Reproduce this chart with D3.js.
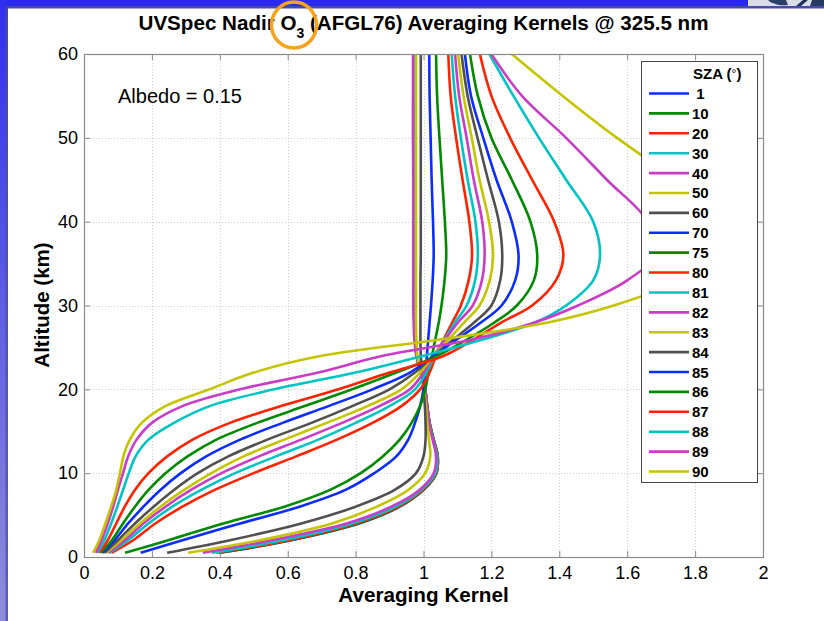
<!DOCTYPE html>
<html>
<head>
<meta charset="utf-8">
<script src="https://cdn.jsdelivr.net/npm/d3@7"></script>
<style>
  body { margin: 0; background: #fff; }
  svg { display: block; font-family: "Liberation Sans", Arial, Helvetica, sans-serif; }
</style>
</head>
<body>
<div id="chart"></div>
<script>
// altitude grid (km) shared by every kernel
const altitudes = [0.5, 2, 4, 6, 8, 10, 12, 14, 16, 18, 20, 22, 24, 26, 28, 30, 33, 36, 40, 45, 50, 55, 60];

// averaging kernel per solar zenith angle
const ak01 = [0.400, 0.610, 0.810, 0.930, 1.000, 1.038, 1.042, 1.030, 1.018, 1.011, 1.005, 0.992, 0.980, 0.975, 0.973, 0.972, 0.972, 0.972, 0.972, 0.972, 0.972, 0.972, 0.972];
const ak10 = [0.397, 0.607, 0.807, 0.928, 0.999, 1.038, 1.042, 1.030, 1.018, 1.011, 1.005, 0.992, 0.980, 0.975, 0.973, 0.972, 0.972, 0.972, 0.972, 0.972, 0.972, 0.972, 0.972];
const ak20 = [0.390, 0.600, 0.800, 0.925, 0.997, 1.037, 1.041, 1.029, 1.018, 1.011, 1.005, 0.992, 0.980, 0.975, 0.973, 0.973, 0.973, 0.973, 0.973, 0.973, 0.973, 0.973, 0.973];
const ak30 = [0.376, 0.585, 0.790, 0.918, 0.993, 1.035, 1.040, 1.028, 1.017, 1.010, 1.004, 0.992, 0.980, 0.975, 0.973, 0.973, 0.973, 0.973, 0.973, 0.973, 0.973, 0.973, 0.973];
const ak40 = [0.350, 0.552, 0.773, 0.905, 0.988, 1.030, 1.037, 1.027, 1.016, 1.010, 1.004, 0.991, 0.979, 0.973, 0.971, 0.970, 0.970, 0.970, 0.970, 0.970, 0.969, 0.969, 0.969];
const ak50 = [0.307, 0.518, 0.730, 0.862, 0.955, 1.005, 1.020, 1.016, 1.011, 1.007, 1.002, 0.992, 0.982, 0.979, 0.978, 0.978, 0.978, 0.978, 0.978, 0.978, 0.978, 0.978, 0.978];
const ak60 = [0.245, 0.430, 0.640, 0.800, 0.915, 0.978, 1.000, 1.006, 1.006, 1.004, 1.000, 0.996, 0.992, 0.991, 0.991, 0.991, 0.991, 0.992, 0.992, 0.992, 0.992, 0.992, 0.992];
const ak70 = [0.167, 0.290, 0.460, 0.635, 0.770, 0.855, 0.920, 0.955, 0.975, 0.990, 1.000, 1.006, 1.010, 1.014, 1.018, 1.022, 1.027, 1.030, 1.028, 1.024, 1.021, 1.018, 1.017];
const ak75 = [0.121, 0.248, 0.410, 0.590, 0.725, 0.815, 0.880, 0.930, 0.965, 0.990, 1.005, 1.015, 1.025, 1.035, 1.045, 1.053, 1.062, 1.067, 1.063, 1.055, 1.047, 1.040, 1.037];
const ak80 = [0.081, 0.145, 0.210, 0.290, 0.385, 0.500, 0.625, 0.745, 0.850, 0.935, 0.990, 1.018, 1.037, 1.060, 1.085, 1.110, 1.133, 1.143, 1.135, 1.115, 1.096, 1.080, 1.073];
const ak81 = [0.075, 0.130, 0.190, 0.260, 0.345, 0.445, 0.565, 0.690, 0.800, 0.900, 0.975, 1.008, 1.033, 1.063, 1.093, 1.127, 1.152, 1.160, 1.153, 1.130, 1.110, 1.093, 1.083];
const ak82 = [0.070, 0.120, 0.175, 0.240, 0.315, 0.405, 0.515, 0.640, 0.760, 0.870, 0.960, 1.000, 1.030, 1.065, 1.102, 1.145, 1.172, 1.180, 1.173, 1.148, 1.127, 1.105, 1.093];
const ak83 = [0.065, 0.110, 0.165, 0.225, 0.295, 0.375, 0.470, 0.590, 0.715, 0.835, 0.935, 0.990, 1.030, 1.075, 1.120, 1.165, 1.195, 1.205, 1.193, 1.165, 1.142, 1.118, 1.102];
const ak84 = [0.060, 0.100, 0.150, 0.205, 0.265, 0.335, 0.425, 0.540, 0.670, 0.790, 0.900, 0.975, 1.030, 1.090, 1.150, 1.200, 1.226, 1.232, 1.222, 1.190, 1.159, 1.130, 1.112];
const ak85 = [0.055, 0.090, 0.130, 0.175, 0.225, 0.285, 0.360, 0.460, 0.585, 0.720, 0.850, 0.960, 1.030, 1.100, 1.170, 1.230, 1.270, 1.280, 1.260, 1.215, 1.176, 1.140, 1.122];
const ak86 = [0.050, 0.082, 0.115, 0.150, 0.190, 0.240, 0.305, 0.390, 0.510, 0.650, 0.790, 0.920, 1.040, 1.130, 1.210, 1.275, 1.325, 1.335, 1.315, 1.260, 1.200, 1.160, 1.137];
const ak87 = [0.045, 0.070, 0.095, 0.120, 0.150, 0.190, 0.245, 0.320, 0.430, 0.580, 0.750, 0.900, 1.060, 1.150, 1.230, 1.320, 1.390, 1.412, 1.385, 1.320, 1.255, 1.200, 1.166];
const ak88 = [0.039, 0.060, 0.080, 0.098, 0.115, 0.132, 0.152, 0.190, 0.265, 0.370, 0.560, 0.800, 1.000, 1.180, 1.330, 1.420, 1.500, 1.520, 1.500, 1.420, 1.340, 1.265, 1.194];
const ak89 = [0.035, 0.052, 0.070, 0.086, 0.100, 0.115, 0.130, 0.155, 0.200, 0.290, 0.460, 0.690, 0.880, 1.150, 1.330, 1.455, 1.600, 1.680, 1.660, 1.540, 1.420, 1.290, 1.200];
const ak90 = [0.027, 0.045, 0.063, 0.080, 0.095, 0.106, 0.116, 0.135, 0.170, 0.240, 0.370, 0.500, 0.700, 1.060, 1.370, 1.560, 1.760, 1.890, 1.950, 1.750, 1.570, 1.410, 1.260];

const szaLabels = [' 1', '10', '20', '30', '40', '50', '60', '70', '75', '80', '81', '82', '83', '84', '85', '86', '87', '88', '89', '90'];
const kernels = [ak01, ak10, ak20, ak30, ak40, ak50, ak60, ak70, ak75, ak80, ak81, ak82, ak83, ak84, ak85, ak86, ak87, ak88, ak89, ak90];

// matlab style colour order
const colorOrder = ['#0a2cff', '#008a00', '#ff2200', '#00c4c4', '#c83cc8', '#c4c400', '#505050'];

const xTicks = [0, 0.2, 0.4, 0.6, 0.8, 1, 1.2, 1.4, 1.6, 1.8, 2];
const xTickLabels = ['0', '0.2', '0.4', '0.6', '0.8', '1', '1.2', '1.4', '1.6', '1.8', '2'];
const yTicks = [0, 10, 20, 30, 40, 50, 60];

const width = 824, height = 621;
const plot = { left: 84, right: 763, top: 54, bottom: 557 };

const svg = d3.select('#chart').append('svg')
  .attr('width', width)
  .attr('height', height);

// slide frame
const defs = svg.append('defs');
const sideGrad = defs.append('linearGradient')
  .attr('id', 'sideGrad').attr('x1', 0).attr('y1', 0).attr('x2', 0).attr('y2', 1);
sideGrad.append('stop').attr('offset', '0%').attr('stop-color', '#2f2ff0');
sideGrad.append('stop').attr('offset', '100%').attr('stop-color', '#8e8ed8');
const innerGrad = defs.append('linearGradient')
  .attr('id', 'innerGrad').attr('x1', 0).attr('y1', 0).attr('x2', 0).attr('y2', 1);
innerGrad.append('stop').attr('offset', '0%').attr('stop-color', '#4646b0');
innerGrad.append('stop').attr('offset', '100%').attr('stop-color', '#5c5cc0');

svg.append('rect').attr('x', 0).attr('y', 0).attr('width', width).attr('height', 8).attr('fill', '#2a2aee');
svg.append('rect').attr('x', 0).attr('y', 6).attr('width', width).attr('height', 2.5).attr('fill', '#4a4aae');
svg.append('rect').attr('x', 748).attr('y', 0).attr('width', width - 748).attr('height', 6).attr('fill', '#d9dde8');
svg.append('path').attr('d', 'M768,0 C772,4 780,6 788,5 L786,0 Z').attr('fill', '#2c3f66');
svg.append('path').attr('d', 'M796,6 L803,0 L808,0 L801,6 Z').attr('fill', '#1d3158');
svg.append('path').attr('d', 'M810,6 L812,0 L824,0 L824,6 Z').attr('fill', '#243a63');
svg.append('rect').attr('x', 0).attr('y', 0).attr('width', 6).attr('height', height).attr('fill', 'url(#sideGrad)');
svg.append('rect').attr('x', 5.5).attr('y', 6).attr('width', 2.5).attr('height', height - 6).attr('fill', 'url(#innerGrad)');

const x = d3.scaleLinear().domain([0, 2]).range([plot.left, plot.right]);
const y = d3.scaleLinear().domain([0, 60]).range([plot.bottom, plot.top]);

// dotted grid
const grid = svg.append('g').attr('stroke', '#cfcfcf').attr('stroke-width', 1).attr('stroke-dasharray', '1,2');
grid.selectAll('line.gx').data(xTicks.slice(1, -1)).enter().append('line')
  .attr('x1', d => Math.round(x(d)) + 0.5).attr('x2', d => Math.round(x(d)) + 0.5)
  .attr('y1', plot.top).attr('y2', plot.bottom);
grid.selectAll('line.gy').data(yTicks.slice(1, -1)).enter().append('line')
  .attr('y1', d => Math.round(y(d)) + 0.5).attr('y2', d => Math.round(y(d)) + 0.5)
  .attr('x1', plot.left).attr('x2', plot.right);

// kernels
defs.append('clipPath').attr('id', 'plotClip').append('rect')
  .attr('x', plot.left).attr('y', plot.top)
  .attr('width', plot.right - plot.left).attr('height', plot.bottom - plot.top);

const line = d3.line()
  .x(d => x(d[0]))
  .y(d => y(d[1]))
  .curve(d3.curveCatmullRom.alpha(0.5));

svg.append('g').attr('clip-path', 'url(#plotClip)')
  .selectAll('path')
  .data(kernels)
  .enter().append('path')
  .attr('d', vals => line(vals.map((v, i) => [v, altitudes[i]])))
  .attr('fill', 'none')
  .attr('stroke', (d, i) => colorOrder[i % colorOrder.length])
  .attr('stroke-width', 2.6)
  .attr('stroke-linejoin', 'round');

// axes (ticks inside, box on)
const axisColor = '#8a8a8a';
const styleAxis = g => {
  g.select('.domain').remove();
  g.selectAll('.tick line').attr('stroke', axisColor);
  g.selectAll('.tick text').attr('fill', '#000').attr('font-size', 18);
};

svg.append('g').attr('transform', `translate(0,${plot.bottom})`)
  .call(d3.axisBottom(x).tickValues(xTicks).tickFormat((d, i) => xTickLabels[i])
    .tickSizeInner(-6).tickSizeOuter(0).tickPadding(9))
  .call(styleAxis);
svg.append('g').attr('transform', `translate(0,${plot.top})`)
  .call(d3.axisTop(x).tickValues(xTicks).tickFormat('').tickSizeInner(-6).tickSizeOuter(0))
  .call(styleAxis);
svg.append('g').attr('transform', `translate(${plot.left},0)`)
  .call(d3.axisLeft(y).tickValues(yTicks).tickSizeInner(-6).tickSizeOuter(0).tickPadding(6))
  .call(styleAxis);
svg.append('g').attr('transform', `translate(${plot.right},0)`)
  .call(d3.axisRight(y).tickValues(yTicks).tickFormat('').tickSizeInner(-6).tickSizeOuter(0))
  .call(styleAxis);

svg.append('rect')
  .attr('x', plot.left + 0.5).attr('y', plot.top + 0.5)
  .attr('width', plot.right - plot.left).attr('height', plot.bottom - plot.top)
  .attr('fill', 'none').attr('stroke', axisColor).attr('stroke-width', 1.2);

// labels
const title = svg.append('text')
  .attr('x', (plot.left + plot.right) / 2).attr('y', 30)
  .attr('text-anchor', 'middle').attr('font-size', 20.6).attr('font-weight', 'bold');
title.append('tspan').text('UVSpec Nadir O');
title.append('tspan').attr('font-size', 14).attr('dy', 8).text('3');
title.append('tspan').attr('dy', -8).text(' (AFGL76) Averaging Kernels @ 325.5 nm');

svg.append('ellipse')
  .attr('cx', 294).attr('cy', 25).attr('rx', 22.5).attr('ry', 23)
  .attr('fill', 'none').attr('stroke', '#f5a31a').attr('stroke-width', 3.5);

svg.append('text')
  .attr('x', (plot.left + plot.right) / 2).attr('y', 602)
  .attr('text-anchor', 'middle').attr('font-size', 20.7).attr('font-weight', 'bold')
  .text('Averaging Kernel');

svg.append('text')
  .attr('transform', 'translate(49,305) rotate(-90)')
  .attr('text-anchor', 'middle').attr('font-size', 20.5).attr('font-weight', 'bold')
  .text('Altitude (km)');

svg.append('text')
  .attr('x', 118).attr('y', 103)
  .attr('font-size', 20)
  .text('Albedo = 0.15');

// legend
const legend = svg.append('g');
legend.append('rect')
  .attr('x', 641.5).attr('y', 61.5).attr('width', 116).attr('height', 421)
  .attr('fill', '#fff').attr('stroke', '#444').attr('stroke-width', 1);

const legTitle = legend.append('text')
  .attr('x', 693).attr('y', 79)
  .attr('font-size', 15).attr('font-weight', 'bold');
legTitle.append('tspan').text('SZA (');
legTitle.append('tspan').attr('font-weight', 'normal').attr('font-size', 12).attr('dy', -1).text('°');
legTitle.append('tspan').attr('dy', 1).text(')');

const rowY = d3.scaleLinear().domain([0, szaLabels.length - 1]).range([93.5, 471.5]);
const rows = legend.selectAll('g.row').data(szaLabels).enter().append('g')
  .attr('transform', (d, i) => `translate(0,${rowY(i)})`);
rows.append('line')
  .attr('x1', 649).attr('x2', 689).attr('y1', 0).attr('y2', 0)
  .attr('stroke', (d, i) => colorOrder[i % colorOrder.length])
  .attr('stroke-width', 2.6);
rows.append('text')
  .attr('x', 692).attr('y', 5.5)
  .attr('font-size', 15).attr('font-weight', 'bold')
  .style('white-space', 'pre')
  .text(d => d);
</script>
</body>
</html>
